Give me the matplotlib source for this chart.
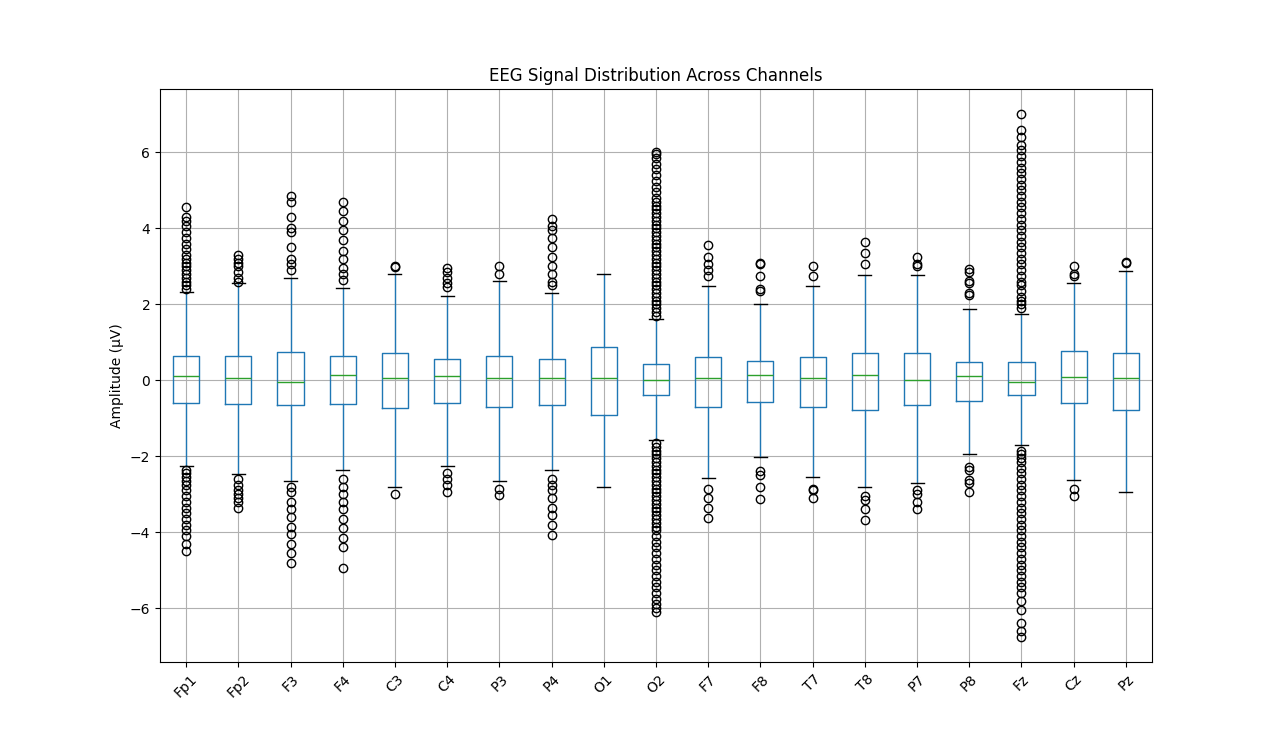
import matplotlib
matplotlib.use('Agg')
import matplotlib.pyplot as plt

channels = ['Fp1', 'Fp2', 'F3', 'F4', 'C3', 'C4', 'P3', 'P4', 'O1', 'O2',
            'F7', 'F8', 'T7', 'T8', 'P7', 'P8', 'Fz', 'Cz', 'Pz']
medians = [0.12, 0.05, -0.05, 0.13, 0.07, 0.10, 0.07, 0.07, 0.05, 0.02,
           0.07, 0.15, 0.07, 0.13, 0.02, 0.12, -0.05, 0.08, 0.07]
q1 = [-0.60, -0.62, -0.65, -0.62, -0.73, -0.60, -0.70, -0.65, -0.92, -0.38,
      -0.70, -0.57, -0.70, -0.77, -0.65, -0.55, -0.40, -0.60, -0.78]
q3 = [0.63, 0.63, 0.75, 0.65, 0.72, 0.57, 0.65, 0.57, 0.87, 0.43,
      0.60, 0.52, 0.60, 0.72, 0.72, 0.47, 0.47, 0.77, 0.72]
whis_lo = [-2.25, -2.47, -2.65, -2.37, -2.82, -2.25, -2.65, -2.37, -2.80, -1.58,
           -2.58, -2.02, -2.55, -2.80, -2.70, -1.95, -1.70, -2.62, -2.95]
whis_hi = [2.33, 2.55, 2.70, 2.42, 2.80, 2.22, 2.62, 2.30, 2.80, 1.62,
           2.48, 2.00, 2.48, 2.77, 2.77, 1.87, 1.75, 2.57, 2.87]
fliers = [
    [2.4, 2.5, 2.6, 2.7, 2.8, 2.9, 3.0, 3.1, 3.2, 3.3, 3.45, 3.6, 3.75, 3.9, 4.05, 4.2, 4.3, 4.55,
     -2.35, -2.45, -2.55, -2.65, -2.75, -2.9, -3.05, -3.2, -3.35, -3.5, -3.65, -3.8, -3.95, -4.1, -4.3, -4.5],
    [2.6, 2.7, 2.85, 3.0, 3.1, 3.2, 3.3, -2.6, -2.75, -2.9, -3.0, -3.1, -3.2, -3.35],
    [2.9, 3.05, 3.2, 3.5, 3.9, 4.0, 4.3, 4.7, 4.85,
     -2.8, -2.95, -3.2, -3.4, -3.6, -3.85, -4.05, -4.3, -4.55, -4.8],
    [2.65, 2.8, 2.95, 3.2, 3.4, 3.7, 3.95, 4.2, 4.45, 4.7,
     -2.6, -2.8, -3.0, -3.2, -3.4, -3.65, -3.9, -4.15, -4.4, -4.93],
    [2.97, 3.0, -3.0],
    [2.45, 2.55, 2.7, 2.85, 2.95, -2.45, -2.6, -2.75, -2.95],
    [2.8, 3.0, -2.85, -3.02],
    [2.5, 2.6, 2.8, 3.0, 3.25, 3.5, 3.75, 3.95, 4.05, 4.25,
     -2.6, -2.75, -2.9, -3.1, -3.35, -3.55, -3.8, -4.07],
    [],
    [1.7, 1.8, 1.9, 2.0, 2.1, 2.2, 2.3, 2.4, 2.5, 2.6, 2.7, 2.8, 2.9, 3.0, 3.1, 3.2, 3.3, 3.4,
     3.5, 3.6, 3.7, 3.8, 3.9, 4.0, 4.1, 4.2, 4.3, 4.4, 4.5, 4.6, 4.7, 4.8, 4.95, 5.1, 5.25,
     5.4, 5.55, 5.7, 5.85, 5.95, 6.0,
     -1.65, -1.75, -1.85, -1.95, -2.05, -2.15, -2.25, -2.35, -2.45, -2.55, -2.65, -2.75, -2.85,
     -2.95, -3.05, -3.15, -3.25, -3.35, -3.45, -3.55, -3.65, -3.75, -3.85, -3.95, -4.1, -4.25,
     -4.4, -4.55, -4.7, -4.85, -5.0, -5.15, -5.3, -5.45, -5.6, -5.75, -5.9, -6.0, -6.1],
    [2.75, 2.9, 3.05, 3.25, 3.55, -2.85, -3.1, -3.35, -3.62],
    [2.35, 2.4, 2.75, 3.05, 3.1, -2.4, -2.5, -2.8, -3.12],
    [2.75, 3.0, -2.85, -2.9, -3.1],
    [3.05, 3.35, 3.65, -3.05, -3.15, -3.4, -3.67],
    [3.0, 3.05, 3.25, -2.9, -3.0, -3.2, -3.38],
    [2.25, 2.3, 2.55, 2.62, 2.85, 2.92, -2.28, -2.35, -2.62, -2.7, -2.95],
    [1.9, 2.0, 2.1, 2.2, 2.35, 2.5, 2.6, 2.75, 2.9, 3.05, 3.2, 3.35, 3.5, 3.65, 3.8, 3.95, 4.1,
     4.25, 4.4, 4.55, 4.7, 4.85, 5.0, 5.15, 5.3, 5.45, 5.6, 5.75, 5.9, 6.05, 6.2, 6.4, 6.6, 7.0,
     -1.85, -1.95, -2.05, -2.15, -2.3, -2.45, -2.6, -2.75, -2.9, -3.05, -3.2, -3.35, -3.5,
     -3.65, -3.8, -3.95, -4.1, -4.25, -4.4, -4.55, -4.7, -4.85, -5.0, -5.15, -5.3, -5.45,
     -5.6, -5.8, -6.05, -6.4, -6.6, -6.75],
    [2.75, 2.8, 3.0, -2.85, -3.05],
    [3.08, 3.12],
]

stats = []
for i, ch in enumerate(channels):
    stats.append({'label': ch, 'med': medians[i], 'q1': q1[i], 'q3': q3[i],
                  'whislo': whis_lo[i], 'whishi': whis_hi[i], 'fliers': fliers[i]})

fig, ax = plt.subplots(figsize=(12.8, 7.44), dpi=100)
ax.bxp(stats,
       boxprops=dict(color='#1f77b4'),
       whiskerprops=dict(color='#1f77b4'),
       capprops=dict(color='black'),
       medianprops=dict(color='#2ca02c'),
       flierprops=dict(marker='o', markeredgecolor='black', markerfacecolor='none'))
ax.grid(True)
ax.set_ylim(-7.42, 7.66)
ax.set_title('EEG Signal Distribution Across Channels')
ax.set_ylabel('Amplitude (µV)')
plt.setp(ax.get_xticklabels(), rotation=45)
fig.savefig('out.png')
